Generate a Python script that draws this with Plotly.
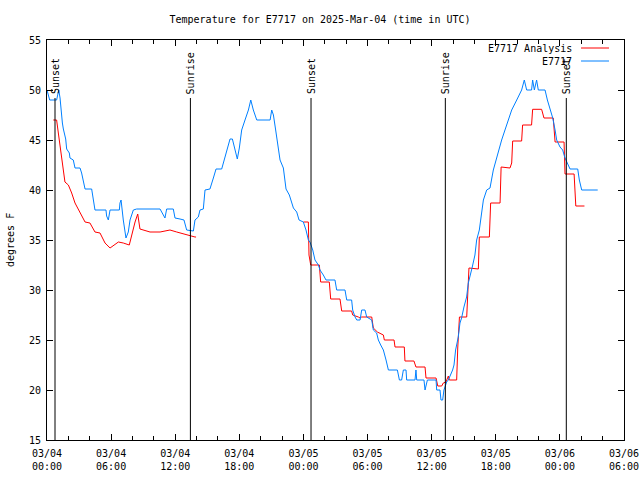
import plotly.graph_objects as go
import pandas as pd
from datetime import timedelta

# ---------------- data (hours since 2025-03-04 00:00 UTC) ----------------
blue_hours = [0, 0.25, 0.9, 1.1, 1.22, 1.31, 1.44, 1.53, 1.75, 1.84, 2.09, 2.15, 2.46, 2.62, 3.09, 3.24,
              3.4, 3.56, 4.18, 4.33, 4.49, 5.52, 5.58, 5.74, 5.9, 6.77, 6.83, 6.93, 7.0, 7.14, 7.39, 7.61,
              7.77, 8.08, 8.39, 10.58, 11.04, 11.2, 11.82, 11.98, 12.45, 12.82, 13.07, 13.7, 13.85, 14.16,
              14.32, 14.63, 14.79, 15.25, 15.57, 15.82, 16.35, 16.57, 16.82, 17.13, 17.35, 17.6, 17.81, 18.0,
              18.22, 18.53, 18.85, 19.07, 19.31, 19.63, 20.88, 21.03, 21.19, 21.4, 21.65, 21.81, 22.12, 22.37,
              22.68, 22.84, 23.06, 23.37, 23.59, 23.99, 24.24, 24.46, 24.61, 24.87, 25.08, 25.4, 25.55, 25.86,
              26.11, 26.95, 27.11, 27.89, 28.05, 28.51, 28.61, 28.83, 28.99, 29.3, 29.45, 29.76, 29.92, 30.39,
              30.54, 30.85, 31.01, 31.23, 31.48, 31.73, 31.95, 32.79, 32.98, 33.19, 33.35, 33.6, 33.66, 34.44,
              34.53, 34.6, 35.28, 35.38, 35.47, 35.6, 36.41, 36.47, 36.78, 36.87, 37.03, 37.15, 37.4, 37.56,
              37.96, 38.09, 38.24, 38.49, 38.65, 38.8, 39.02, 39.27, 39.43, 39.58, 39.8, 40.05, 40.21, 40.46,
              40.68, 40.84, 41.15, 41.46, 41.77, 42.08, 42.3, 42.55, 42.86, 43.18, 43.49, 43.96, 44.42, 44.67,
              44.89, 45.35, 45.45, 45.61, 45.82, 45.98, 46.61, 46.83, 47.08, 47.33, 47.55, 47.7, 48.01, 48.26,
              48.48, 48.7, 48.95, 49.67, 49.82, 50.04, 51.54]
blue_temp = [50, 49, 49, 50, 49.2, 47.8, 46.7, 46.1, 45.1, 44.1, 43.7, 43.2, 43, 42.2, 42.2, 41.7,
             40.8, 40.1, 40.1, 39.1, 38, 38, 37.4, 37, 38, 38, 38.7, 39, 38, 37, 35.2, 35.8,
             37, 38, 38.1, 38.1, 37.2, 38.1, 38.1, 37.2, 37.1, 37, 36, 35.9, 37, 37.3,
             38, 38.1, 40, 40.1, 41.2, 42.1, 42.1, 43, 44, 45.1, 45.1, 44, 43.1, 44.2,
             46, 47, 48, 49, 48, 47, 47, 48, 47.5, 46, 44, 43, 42.2, 40.1,
             39.5, 39, 38.2, 37.8, 37, 36.8, 36, 35, 34.8, 34, 33, 32.5, 32, 31.5,
             31, 31, 30, 30, 29, 29, 28, 27.3, 27, 27, 28, 28, 27.3, 27,
             26, 25.7, 25, 24.5, 24, 23, 22, 22, 21, 21, 22, 22, 21, 21,
             22, 21, 21, 20, 20.5, 21, 21, 20, 20, 19, 19, 20, 20.8, 21,
             22, 22.5, 24, 25.3, 26.7, 27.2, 28.3, 29.3, 30.7, 31.5, 32.3, 33.5, 35, 36,
             37.8, 39, 40, 40.2, 42, 43.3, 44, 45, 46, 47, 48, 49, 50, 51,
             50, 50, 51, 50, 51, 50, 50, 49, 48, 47.2, 46, 45, 44.3, 44,
             43.2, 42.7, 42.1, 42.1, 41, 40, 40]

red_hours = [0.59, 0.9, 1.06, 1.28, 1.46, 1.68, 2.0, 2.31, 2.62, 3.09, 3.56, 4.02, 4.49, 4.96, 5.43, 5.9,
             6.68, 7.14, 7.7, 8.24, 8.49, 8.7, 9.64, 10.58, 11.51, 12.14, 13.07, 13.85, 13.95,
             None,
             23.99, 24.46, 24.52, 24.68, 25.49, 25.61, 26.42, 26.55, 27.42, 27.58, 28.51, 28.61, 29.14, 29.3,
             29.45, 30.39, 30.54, 30.92, 31.48, 31.57, 32.48, 32.57, 33.44, 33.5, 34.34, 34.53, 35.38, 35.47,
             36.41, 36.57, 36.94, 37.09, 37.34, 37.56, 37.65, 38.34, 38.44, 38.6, 39.28, 39.37, 39.49, 40.37,
             40.46, 41.4, 41.46, 41.52, 42.4, 42.5, 43.33, 43.49, 43.58, 44.42, 44.51, 45.35, 45.45, 46.29,
             46.51, 47.38, 47.55, 48.39, 48.48, 49.33, 49.49, 50.3]
red_temp = [47, 47, 45.7, 44, 42.7, 40.8, 40.5, 39.7, 38.7, 37.8, 36.8, 36.7, 35.8, 35.7, 34.7, 34.2,
            34.8, 34.7, 34.5, 36.8, 37.6, 36.1, 35.8, 35.8, 36, 35.8, 35.5, 35.3, 35.3,
            None,
            36.8, 36.8, 33.5, 32.5, 32.5, 30.8, 30.8, 29.1, 29.1, 27.9, 27.9, 27.5, 27.3, 27.2,
            27.3, 27.3, 26.2, 25.8, 25.5, 25, 25, 24.3, 24.3, 22.9, 22.9, 22.3, 22.3, 21.2,
            21.2, 20.4, 20.4, 20.7, 20.8, 21.4, 21, 21, 24.2, 27.3, 27.3, 30, 32.2, 32.1,
            35.3, 35.3, 37, 38.7, 38.7, 42.3, 42.2, 42.7, 44.9, 44.9, 46.5, 46.5, 48.07, 48.07,
            47.2, 47.2, 44.8, 44.8, 41.6, 41.6, 38.4, 38.4]

event_hours = [0.75, 13.42, 24.71, 37.28, 48.6]
event_labels = ["Sunset", "Sunrise", "Sunset", "Sunrise", "Sunset"]

tick_hours = [0, 6, 12, 18, 24, 30, 36, 42, 48, 54]
tick_labels = ["03/04<br>00:00", "03/04<br>06:00", "03/04<br>12:00", "03/04<br>18:00",
               "03/05<br>00:00", "03/05<br>06:00", "03/05<br>12:00", "03/05<br>18:00",
               "03/06<br>00:00", "03/06<br>06:00"]
y_ticks = [15, 20, 25, 30, 35, 40, 45, 50, 55]

series_names = ["E7717 Analysis", "E7717"]
series_colors = ["#ff0000", "#0080ff"]

# ---------------- build ----------------
base = pd.Timestamp("2025-03-04 00:00")


def to_time(hours):
    return [base + timedelta(hours=h) if h is not None else None for h in hours]


FONT = "DejaVu Sans Mono"
fig = go.Figure()

fig.add_trace(go.Scatter(x=to_time(red_hours), y=red_temp, mode="lines", name=series_names[0],
                         line=dict(color=series_colors[0], width=1), connectgaps=False))
fig.add_trace(go.Scatter(x=to_time(blue_hours), y=blue_temp, mode="lines", name=series_names[1],
                         line=dict(color=series_colors[1], width=1)))

for h, lab in zip(event_hours, event_labels):
    t = base + timedelta(hours=h)
    fig.add_shape(type="line", xref="x", yref="y", x0=t, x1=t, y0=15, y1=49.2,
                  line=dict(color="black", width=1))
    fig.add_annotation(x=t, y=49.4, xref="x", yref="y", text=lab, textangle=-90, showarrow=False,
                       xanchor="center", yanchor="bottom", font=dict(family=FONT, size=10, color="black"))

# manual legend (text left of sample line, like gnuplot)
for i, (nm, col) in enumerate(zip(series_names, series_colors)):
    ypx = 48 + 13 * i
    yp = (440 - ypx) / 400
    fig.add_annotation(x=(574 - 47) / 577, y=yp, xref="paper", yref="paper", text=nm, showarrow=False,
                       xanchor="right", yanchor="middle", font=dict(family=FONT, size=10, color="black"))
    fig.add_shape(type="line", xref="paper", yref="paper", x0=(581 - 47) / 577, x1=(609 - 47) / 577,
                  y0=yp, y1=yp, line=dict(color=col, width=1))

fig.add_annotation(x=(10 - 47) / 577, y=0.5, xref="paper", yref="paper", text="degrees F", textangle=-90,
                   showarrow=False, xanchor="center", yanchor="middle",
                   font=dict(family=FONT, size=10, color="black"))

fig.update_layout(
    width=640, height=480,
    margin=dict(l=47, r=16, t=40, b=40, autoexpand=False),
    paper_bgcolor="white", plot_bgcolor="white",
    showlegend=False,
    title=dict(text="Temperature for E7717 on 2025-Mar-04 (time in UTC)", x=0.5, xanchor="center",
               y=1 - 19 / 480, yanchor="middle", font=dict(family=FONT, size=10, color="black")),
    font=dict(family=FONT, size=10, color="black"),
)

fig.update_xaxes(
    range=[base, base + timedelta(hours=54)], automargin=False,
    tickmode="array", tickvals=to_time(tick_hours), ticktext=tick_labels,
    ticks="inside", ticklen=6, tickcolor="black", tickwidth=1, ticklabelstandoff=4,
    minor=dict(tickmode="array", tickvals=to_time(list(range(0, 55, 2))), ticks="inside",
               ticklen=4, tickcolor="black", tickwidth=1, showgrid=False),
    showline=True, linecolor="black", linewidth=1, mirror="allticks",
    showgrid=False, zeroline=False, tickfont=dict(family=FONT, size=10, color="black"),
)
fig.update_yaxes(
    range=[15, 55], automargin=False, tickmode="array", tickvals=y_ticks,
    ticks="inside", ticklen=6, tickcolor="black", tickwidth=1, ticklabelstandoff=3,
    showline=True, linecolor="black", linewidth=1, mirror="allticks",
    showgrid=False, zeroline=False, tickfont=dict(family=FONT, size=10, color="black"),
)

fig.write_html("out.html", config={"displayModeBar": False},
               post_script="document.body.style.margin='0';document.body.style.padding='0';")
